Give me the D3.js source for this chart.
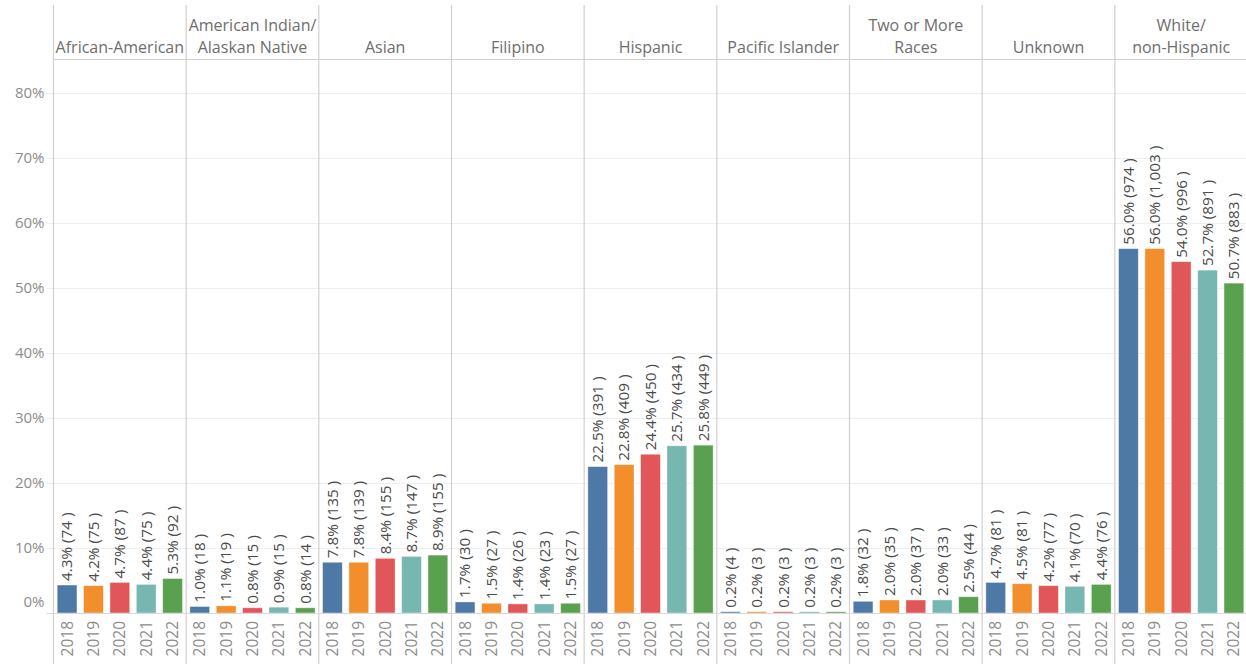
<!DOCTYPE html>
<html>
<head>
<meta charset="utf-8">
<script src="https://cdn.jsdelivr.net/npm/d3@7"></script>
<style>
  body { margin: 0; background: #fff; }
  svg text { font-family: "Open Sans", Lato, sans-serif; }
</style>
</head>
<body>
<svg id="chart" width="1246" height="664"></svg>
<script>
// groups shown as column panels
const groups = [
  ["African-American"],
  ["American Indian/", "Alaskan Native"],
  ["Asian"],
  ["Filipino"],
  ["Hispanic"],
  ["Pacific Islander"],
  ["Two or More", "Races"],
  ["Unknown"],
  ["White/", "non-Hispanic"]
];
const years = ["2018", "2019", "2020", "2021", "2022"];

// percent share per group, one row per group, one column per year
const pctValues = [
  [4.3, 4.2, 4.7, 4.4, 5.3],
  [1.0, 1.1, 0.8, 0.9, 0.8],
  [7.8, 7.8, 8.4, 8.7, 8.9],
  [1.7, 1.5, 1.4, 1.4, 1.5],
  [22.5, 22.8, 24.4, 25.7, 25.8],
  [0.2, 0.2, 0.2, 0.2, 0.2],
  [1.8, 2.0, 2.0, 2.0, 2.5],
  [4.7, 4.5, 4.2, 4.1, 4.4],
  [56.0, 56.0, 54.0, 52.7, 50.7]
];
// headcounts
const countValues = [
  [74, 75, 87, 75, 92],
  [18, 19, 15, 15, 14],
  [135, 139, 155, 147, 155],
  [30, 27, 26, 23, 27],
  [391, 409, 450, 434, 449],
  [4, 3, 3, 3, 3],
  [32, 35, 37, 33, 44],
  [81, 81, 77, 70, 76],
  [974, 1003, 996, 891, 883]
];
const yTicks = [0, 10, 20, 30, 40, 50, 60, 70, 80];
const yearColors = ["#4e79a7", "#f28e2b", "#e15759", "#76b7b2", "#59a14f"];

const svg = d3.select("#chart");
const left = 53.5, right = 1247.5, headerTop = 5, headerBottom = 59.5, baseY = 613;

const x0 = d3.scaleBand()
  .domain(d3.range(groups.length))
  .range([left, right]);

const x1 = d3.scaleBand()
  .domain(years)
  .range([0, x0.bandwidth()])
  .paddingInner(0.25)
  .paddingOuter(0.14);

const y = d3.scaleLinear()
  .domain([0, 80])
  .range([baseY, 92.5]);

const color = d3.scaleOrdinal().domain(years).range(yearColors);

// gridlines
svg.append("g")
  .selectAll("line")
  .data(yTicks.filter(d => d > 0))
  .join("line")
  .attr("x1", left - 7)
  .attr("x2", right)
  .attr("y1", d => Math.round(y(d)) + 0.5)
  .attr("y2", d => Math.round(y(d)) + 0.5)
  .attr("stroke", "#efefef")
  .attr("stroke-width", 1.2);

// y axis labels (0% nudged upward like the original)
svg.append("g")
  .selectAll("text")
  .data(yTicks)
  .join("text")
  .attr("x", left - 9)
  .attr("y", d => d === 0 ? y(d) - 11 : y(d))
  .attr("dy", "0.35em")
  .attr("text-anchor", "end")
  .attr("fill", "#8c8c8c")
  .style("font-size", "15px")
  .text(d => d + "%");

// panel separators
svg.append("g")
  .selectAll("line")
  .data(d3.range(groups.length))
  .join("line")
  .attr("x1", d => x0(d))
  .attr("x2", d => x0(d))
  .attr("y1", headerTop)
  .attr("y2", 664)
  .attr("stroke", "#d0d0d0")
  .attr("stroke-width", 1.2);

// header bottom line
svg.append("line")
  .attr("x1", left).attr("x2", right)
  .attr("y1", headerBottom).attr("y2", headerBottom)
  .attr("stroke", "#d0d0d0")
  .attr("stroke-width", 1.2);

// header titles
const heads = svg.append("g")
  .selectAll("text")
  .data(groups)
  .join("text")
  .attr("x", (d, i) => x0(i) + x0.bandwidth() / 2)
  .attr("text-anchor", "middle")
  .attr("fill", "#6e6e6e")
  .style("font-size", "16px");
heads.selectAll("tspan")
  .data(d => d.map((t, k) => ({ t, k, n: d.length })))
  .join("tspan")
  .attr("x", function () { return this.parentNode.getAttribute("x"); })
  .attr("y", d => 52.5 - (d.n - 1 - d.k) * 22)
  .text(d => d.t);

// bars and labels
const panels = svg.append("g")
  .selectAll("g")
  .data(groups.map((g, i) => i))
  .join("g")
  .attr("transform", i => `translate(${x0(i)},0)`);

const cells = panels.selectAll("g.cell")
  .data(i => years.map((yr, j) => ({ yr, pct: pctValues[i][j], n: countValues[i][j] })))
  .join("g")
  .attr("class", "cell");

cells.append("rect")
  .attr("x", d => x1(d.yr))
  .attr("width", x1.bandwidth())
  .attr("y", d => y(d.pct))
  .attr("height", d => baseY - y(d.pct))
  .attr("fill", d => color(d.yr))
  .attr("stroke", "#fff")
  .attr("stroke-opacity", 0.5)
  .attr("stroke-width", 0.8);

cells.append("text")
  .attr("transform", d => `translate(${x1(d.yr) + x1.bandwidth() / 2},${y(d.pct) - 4}) rotate(-90)`)
  .attr("dy", "0.35em")
  .attr("fill", "#4a4a4a")
  .style("font-size", "15.3px")
  .text(d => `${d.pct.toFixed(1)}% (${d3.format(",")(d.n)} )`);

// year labels under each panel
cells.append("text")
  .attr("transform", d => `translate(${x1(d.yr) + x1.bandwidth() / 2},${baseY + 8}) rotate(-90)`)
  .attr("dy", "0.35em")
  .attr("text-anchor", "end")
  .attr("fill", "#8c8c8c")
  .style("font-size", "15.5px")
  .text(d => d.yr);

// baseline
svg.append("line")
  .attr("x1", left - 7).attr("x2", right)
  .attr("y1", baseY + 0.5).attr("y2", baseY + 0.5)
  .attr("stroke", "#d8d8d8")
  .attr("stroke-width", 1.2);
</script>
</body>
</html>
